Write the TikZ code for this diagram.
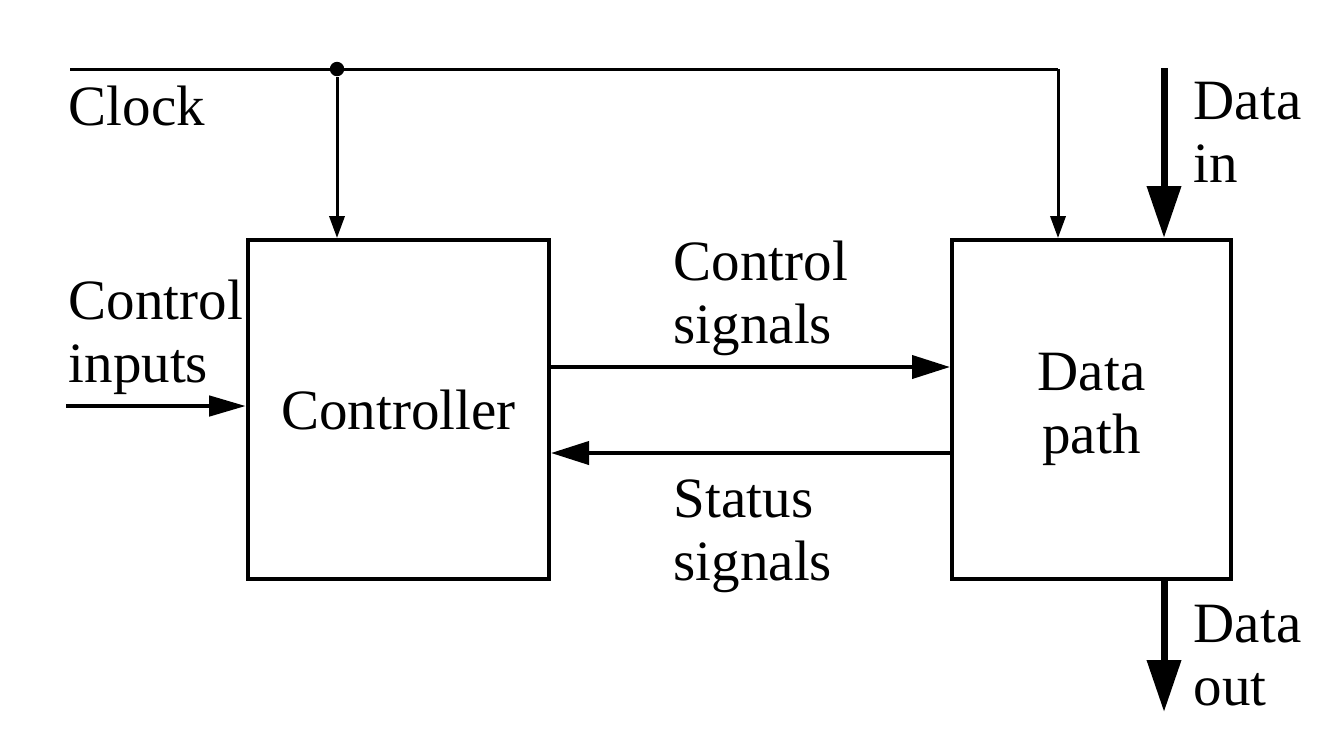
\documentclass[tikz,border=0pt]{standalone}
\usepackage{fontspec}
\setmainfont{Liberation Serif}
\usetikzlibrary{arrows.meta}
\begin{document}
\begin{tikzpicture}[x=0.25pt,y=-0.25pt,
  every node/.style={font=\fontsize{14.25}{15.75}\selectfont, inner sep=0pt},
  lbl/.style={anchor=base west, align=left},
  block/.style={draw, line width=1pt, minimum width=75.25pt, minimum height=84.75pt, align=center},
  clk/.style={line width=0.75pt, -{Triangle[length=5.5pt,width=3.8pt]}},
  sig/.style={line width=1pt, -{Triangle[length=9.5pt,width=5.75pt]}},
  inp/.style={line width=1.2pt, -{Triangle[length=9.25pt,width=5pt]}},
  bus/.style={line width=1.75pt, -{Triangle[length=13pt,width=8.25pt]}}]
\useasboundingbox (0,0) rectangle (1336,730);
% blocks
\node[block] (ctrl) at (398.5,409.5) {Controller};
\node[block, minimum width=69.75pt] (dp) at (1091.5,409.5) {Data\\path};
% clock
\coordinate (clkin) at (70,69);
\coordinate (clkcorner) at (1058,69);
\node[circle, fill, minimum size=3.6pt] (dot) at (337,69) {};
\draw[line width=0.75pt] (clkin) -- (clkcorner);
\draw[clk] (dot) -- (dot |- ctrl.north);
\draw[clk] (clkcorner) -- (clkcorner |- dp.north);
\node[lbl] (clklbl) at (68,125) {Clock};
% control inputs
\coordinate (cin) at (66,406);
\draw[inp] (cin) -- (cin -| ctrl.west);
\node[lbl] (cinlbl) at (68,382) {Control\\inputs};
% control / status signals
\coordinate (cs) at (0,367);
\coordinate (ss) at (0,453);
\draw[sig] (ctrl.east |- cs) -- (dp.west |- cs);
\draw[sig] (dp.west |- ss) -- (ctrl.east |- ss);
\node[lbl] (cslbl) at (673,343) {Control\\signals};
\node[lbl] (sslbl) at (673,580) {Status\\signals};
% data in / out
\coordinate (din) at (1164,68);
\coordinate (dout) at (1164,712);
\draw[bus] (din) -- (din |- dp.north);
\draw[bus] (din |- dp.south) -- (dout);
\node[lbl] (dinlbl) at (1193,182) {Data\\in};
\node[lbl] (doutlbl) at (1193,705) {Data\\out};
\end{tikzpicture}
\end{document}
